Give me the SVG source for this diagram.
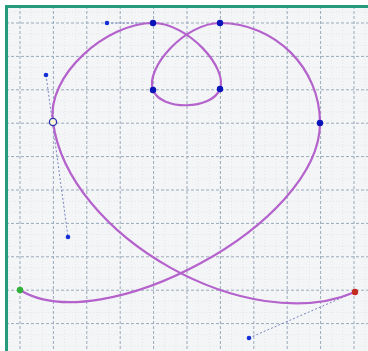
<svg xmlns="http://www.w3.org/2000/svg" width="368" height="351" viewBox="0 0 368 351">
  <defs>
    <style>
      .major { stroke: #9aaabb; stroke-width: 1; stroke-dasharray: 3 2; fill: none; }
      .minor { stroke: #e3e7eb; stroke-width: 1; stroke-dasharray: 1 2; fill: none; }
      .curve { stroke: #b462cc; stroke-width: 2.2; fill: none; stroke-linecap: round; stroke-linejoin: round; }
      .handle { stroke: #7a86c4; stroke-width: 1; stroke-dasharray: 2 2; fill: none; }
      .pt { fill: #0a14b8; }
      .hp { fill: #1630d8; }
    </style>
  </defs>
  <rect x="0" y="0" width="368" height="351" fill="#ffffff"/>
  <rect x="6" y="6" width="362" height="345" fill="#f4f5f6"/>
  <g id="grid-minor" class="minor">
    <path d="M31.1 6V351M42.3 6V351M64.5 6V351M75.7 6V351M97.9 6V351M109.1 6V351M131.3 6V351M142.5 6V351M164.7 6V351M175.9 6V351M198.1 6V351M209.3 6V351M231.5 6V351M242.7 6V351M264.9 6V351M276.1 6V351M298.3 6V351M309.5 6V351M331.7 6V351M342.9 6V351M8.9 6V351M365.1 6V351"/>
    <path d="M6 11.9H368M6 34.1H368M6 45.3H368M6 67.5H368M6 78.7H368M6 100.9H368M6 112.1H368M6 134.3H368M6 145.5H368M6 167.7H368M6 178.9H368M6 201.1H368M6 212.3H368M6 234.5H368M6 245.7H368M6 267.9H368M6 279.1H368M6 301.3H368M6 312.5H368M6 334.7H368M6 345.9H368"/>
  </g>
  <g id="grid-major" class="major">
    <path d="M20 6V351M53.4 6V351M86.8 6V351M120.2 6V351M153.6 6V351M187 6V351M220.4 6V351M253.8 6V351M287.2 6V351M320.6 6V351M354 6V351"/>
    <path d="M6 23H368M6 56.4H368M6 89.8H368M6 123.2H368M6 156.6H368M6 190H368M6 223.4H368M6 256.8H368M6 290.2H368M6 323.6H368"/>
  </g>
  <g id="frame">
    <path d="M6.5 351V6.5H368" fill="none" stroke="#249c7c" stroke-width="3"/>
  </g>
  <g id="connectors">
    <line class="handle" x1="107" y1="23" x2="153" y2="23"/>
    <line class="handle" x1="46" y1="75" x2="68" y2="237"/>
    <line class="handle" x1="249" y1="338" x2="355" y2="292"/>
  </g>
  <g id="curve">
    <path class="curve" d="M20 290 C100 340 320 225 320 123 C320 68 275 23 220 23 C185 23 145 68 153 90 C161 111 212 110 220 89 C228 68 188 23 153 23 C107 23 46 75 53 122 C68 237 249 338 355 292"/>
  </g>
  <g id="node-start"><circle cx="20" cy="290" r="3.2" fill="#2fb23a"/></g>
  <g id="node-end"><circle cx="355" cy="292" r="3.2" fill="#c42a22"/></g>
  <g id="node-top-left"><circle class="pt" cx="153" cy="23" r="3.2"/></g>
  <g id="node-top-right"><circle class="pt" cx="220" cy="23" r="3.2"/></g>
  <g id="node-loop-left"><circle class="pt" cx="153" cy="90" r="3.2"/></g>
  <g id="node-loop-right"><circle class="pt" cx="220" cy="89" r="3.2"/></g>
  <g id="node-right"><circle class="pt" cx="320" cy="123" r="3.2"/></g>
  <g id="node-selected"><circle cx="53" cy="122" r="3.6" fill="#fbf6d8" stroke="#2a36b0" stroke-width="1.3"/></g>
  <g id="handle-1"><circle class="hp" cx="107" cy="23" r="2.3"/></g>
  <g id="handle-2"><circle class="hp" cx="46" cy="75" r="2.3"/></g>
  <g id="handle-3"><circle class="hp" cx="68" cy="237" r="2.3"/></g>
  <g id="handle-4"><circle class="hp" cx="249" cy="338" r="2.3"/></g>
</svg>
